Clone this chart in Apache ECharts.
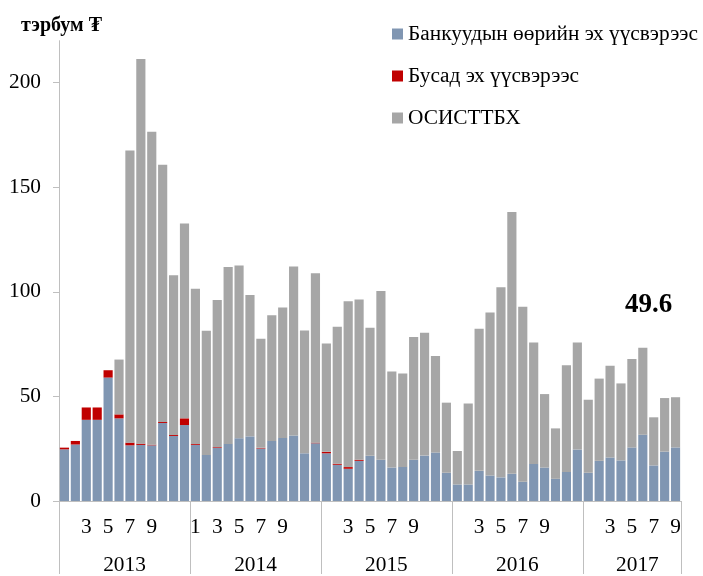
<!DOCTYPE html>
<html>
<head>
<meta charset="utf-8">
<script src="https://cdn.jsdelivr.net/npm/echarts@6/dist/echarts.min.js"></script>
<style>html,body{margin:0;padding:0;background:#fff;}#chart{width:703px;height:576px;}</style>
</head>
<body>
<div id="chart"></div>
<script>
var years = ['2013', '2014', '2015', '2016', '2017'];
var monthsPerYear = [12, 12, 12, 12, 9];

var monthLabels = [
  '', '', '3', '', '5', '', '7', '', '9', '', '', '',
  '1', '', '3', '', '5', '', '7', '', '9', '', '', '',
  '', '', '3', '', '5', '', '7', '', '9', '', '', '',
  '', '', '3', '', '5', '', '7', '', '9', '', '', '',
  '', '', '3', '', '5', '', '7', '', '9'
];
var yearLabels = [
  '', '', '', '', '', '2013', '', '', '', '', '', '',
  '', '', '', '', '', '2014', '', '', '', '', '', '',
  '', '', '', '', '', '2015', '', '', '', '', '', '',
  '', '', '', '', '', '2016', '', '', '', '', '', '',
  '', '', '', '', '2017', '', '', '', ''
];

var seriesNames = ['Банкуудын өөрийн эх үүсвэрээс', 'Бусад эх үүсвэрээс', 'ОСИСТТБХ'];

var bankOwn = [24.7, 27.0, 38.8, 38.8, 59.0, 39.5, 26.6, 26.8, 26.6, 37.3, 31.1, 36.3,
  26.8, 22.0, 25.5, 27.3, 30.0, 30.9, 25.1, 28.7, 30.1, 31.3, 22.8, 27.6,
  22.8, 17.3, 15.4, 19.2, 21.6, 19.7, 16.0, 16.3, 19.7, 21.7, 23.2, 13.5,
  7.9, 7.9, 14.4, 12.2, 11.3, 13.0, 9.2, 17.7, 16.0, 10.6, 13.9, 24.6,
  13.5, 19.2, 20.8, 19.4, 25.6, 31.7, 17.0, 23.6, 25.6];
var otherSrc = [0.8, 1.7, 5.9, 5.9, 3.5, 1.9, 1.3, 0.6, 0.3, 0.5, 0.5, 3.2,
  0.4, 0, 0.3, 0, 0, 0, 0.3, 0, 0, 0, 0, 0.3,
  0.7, 0.5, 0.8, 0.5, 0, 0, 0, 0, 0, 0, 0, 0,
  0, 0, 0, 0, 0, 0, 0, 0, 0, 0, 0, 0,
  0, 0, 0, 0, 0, 0, 0, 0, 0];
var osisttbh = [0, 0, 0, 0, 0, 26.2, 139.6, 183.9, 149.6, 122.9, 76.3, 93.1,
  74.3, 59.4, 70.3, 84.5, 82.5, 67.6, 52.2, 60.1, 62.4, 80.8, 58.7, 80.9,
  51.8, 65.5, 79.3, 76.6, 61.2, 80.7, 45.9, 44.6, 58.7, 58.7, 46.1, 33.5,
  16.0, 38.7, 67.9, 77.9, 90.9, 125.1, 83.7, 58.0, 35.1, 24.1, 51.0, 51.1,
  34.9, 39.3, 43.8, 36.8, 42.3, 41.6, 23.0, 25.6, 24.0];

var categories = [];
years.forEach(function (y, yi) {
  for (var m = 1; m <= monthsPerYear[yi]; m++) categories.push(y + '-' + m);
});

var lastIdx = categories.length - 1;
var lastTotal = (bankOwn[lastIdx] + otherSrc[lastIdx] + osisttbh[lastIdx]).toFixed(1);

var font = "'Liberation Serif', 'Times New Roman', serif";
var fs = 21.33;
var axisGray = '#bfbfbf';

var grayData = osisttbh.map(function (v, i) {
  if (i === lastIdx) {
    return {
      value: v,
      label: {
        show: true, position: 'top', offset: [-27, -74],
        formatter: function () { return lastTotal; },
        fontFamily: font, fontWeight: 'bold', fontSize: 27, color: '#000'
      }
    };
  }
  return v;
});

var chart = echarts.init(document.getElementById('chart'));
chart.setOption({
  animation: false,
  backgroundColor: '#fff',
  title: {
    text: 'тэрбум ₮', left: 16, top: 11,
    textStyle: { fontFamily: font, fontWeight: 'bold', fontSize: 20, color: '#000' }
  },
  legend: {
    orient: 'vertical', left: 387, top: 18,
    itemWidth: 11, itemHeight: 11, itemGap: 20,
    icon: 'rect',
    data: seriesNames,
    textStyle: { fontFamily: font, fontSize: fs, color: '#000', lineHeight: 22, padding: [0, 0, 0, 0] }
  },
  grid: { left: 59, right: 22, top: 40.7, bottom: 73, containLabel: false },
  xAxis: [{
    type: 'category',
    data: categories,
    position: 'bottom',
    axisLine: { show: true, lineStyle: { color: axisGray, width: 1 } },
    axisTick: {
      show: true, length: 73,
      interval: function (i) { return i % 12 === 0; },
      lineStyle: { color: axisGray, width: 1 }
    },
    axisLabel: {
      interval: 0, margin: 15, lineHeight: 22,
      fontFamily: font, fontSize: fs, color: '#000',
      formatter: function (v, i) { return monthLabels[i]; }
    }
  }, {
    type: 'category',
    data: categories,
    position: 'bottom',
    axisLine: { show: false },
    axisTick: { show: false },
    axisLabel: {
      interval: 0, margin: 53, lineHeight: 22,
      padding: [0, 0, 0, 11],
      fontFamily: font, fontSize: fs, color: '#000',
      formatter: function (v, i) { return yearLabels[i]; }
    }
  }],
  yAxis: {
    type: 'value', min: 0, max: 220, interval: 50,
    axisLine: { show: true, lineStyle: { color: axisGray, width: 1 } },
    axisTick: { show: true, length: 6, lineStyle: { color: axisGray } },
    splitLine: { show: false },
    axisLabel: { showMaxLabel: false, margin: 18, fontFamily: font, fontSize: fs, color: '#000' }
  },
  series: [{
    name: seriesNames[0], type: 'bar', stack: 'total', data: bankOwn,
    barCategoryGap: '16%', itemStyle: { color: '#8096b2' }
  }, {
    name: seriesNames[1], type: 'bar', stack: 'total', data: otherSrc,
    barCategoryGap: '16%', itemStyle: { color: '#c00000' }
  }, {
    name: seriesNames[2], type: 'bar', stack: 'total', data: grayData,
    barCategoryGap: '16%', itemStyle: { color: '#a6a6a6' }
  }]
});
</script>
</body>
</html>
